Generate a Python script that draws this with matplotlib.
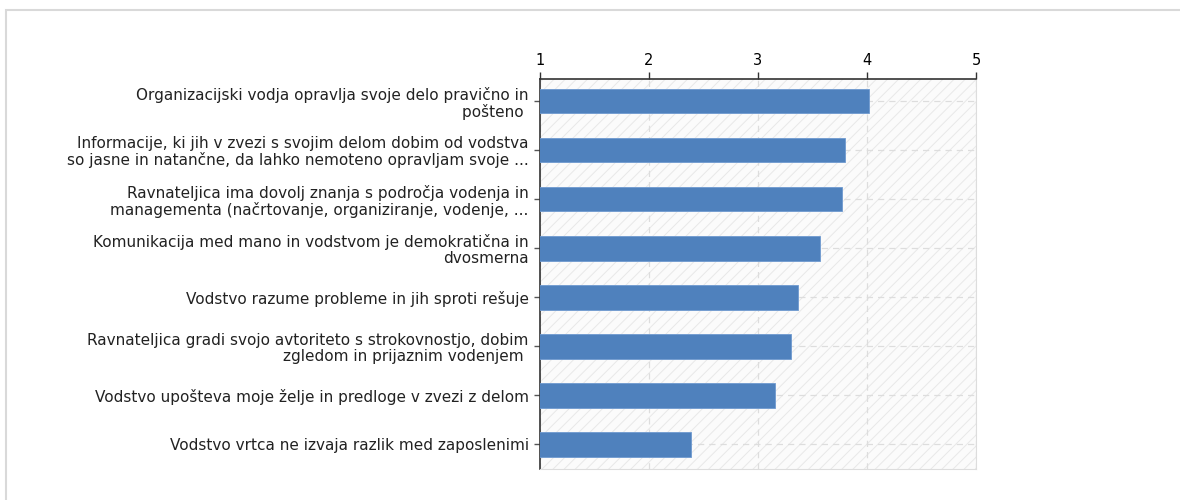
import matplotlib.pyplot as plt
import matplotlib.patches as patches
import numpy as np

labels = [
    "Organizacijski vodja opravlja svoje delo pravično in\npošteno ",
    "Informacije, ki jih v zvezi s svojim delom dobim od vodstva\nso jasne in natančne, da lahko nemoteno opravljam svoje ...",
    "Ravnateljica ima dovolj znanja s področja vodenja in\nmanagementa (načrtovanje, organiziranje, vodenje, ...",
    "Komunikacija med mano in vodstvom je demokratična in\ndvosmerna",
    "Vodstvo razume probleme in jih sproti rešuje",
    "Ravnateljica gradi svojo avtoriteto s strokovnostjo, dobim\nzgledom in prijaznim vodenjem ",
    "Vodstvo upošteva moje želje in predloge v zvezi z delom",
    "Vodstvo vrtca ne izvaja razlik med zaposlenimi",
]
values = [4.02, 3.80, 3.77, 3.57, 3.37, 3.30, 3.16, 2.39]
xticks = [1, 2, 3, 4, 5]

plt.rcParams['font.family'] = ['DejaVu Sans']
plt.rcParams['hatch.linewidth'] = 0.7
fig = plt.figure(figsize=(11.8, 5), dpi=100)
ax = fig.add_axes([0.4576, 0.062, 0.3695, 0.780])

# outer frame
fig.patches.append(patches.Rectangle((0.005, -0.1), 1.1, 1.08, transform=fig.transFigure,
                                     fill=False, edgecolor='#d9d9d9', linewidth=1.5))

# hatched background
ax.set_facecolor('#fbfbfb')
bg = patches.Rectangle((0, 0), 1, 1, transform=ax.transAxes, facecolor='none',
                       edgecolor='#e8e8e8', hatch='///', linewidth=0, zorder=0)
ax.add_patch(bg)

y = np.arange(len(labels))
ax.barh(y, np.array(values) - 0.98, left=0.98, height=0.5, color='#4f81bd',
        edgecolor='#6f9ad0', linewidth=0.6, zorder=3)

ax.set_xlim(1, 5)
ax.set_ylim(len(labels) - 0.5, -0.45)
ax.set_xticks(xticks)
ax.set_yticks(y)
ax.set_yticklabels(labels, fontsize=11, color='#222222', linespacing=1.1)
ax.xaxis.tick_top()
ax.tick_params(axis='x', labelsize=10.5, length=5, width=1, color='#333333', pad=3)
ax.tick_params(axis='y', length=4, width=1, color='#555555', pad=4)

ax.grid(True, axis='both', linestyle=(0, (5, 4)), color='#dddddd', linewidth=0.9, zorder=1)
ax.set_axisbelow(True)

ax.spines['top'].set_color('#333333')
ax.spines['left'].set_color('#333333')
ax.spines['top'].set_linewidth(1.2)
ax.spines['left'].set_linewidth(1.2)
ax.spines['right'].set_color('#dddddd')
ax.spines['bottom'].set_color('#dddddd')

fig.savefig('out.png', dpi=100)
